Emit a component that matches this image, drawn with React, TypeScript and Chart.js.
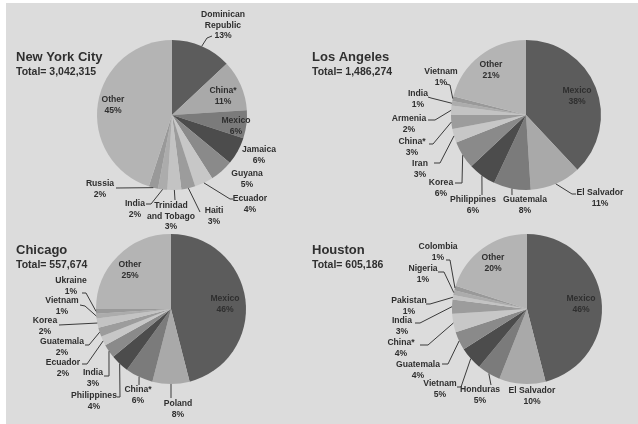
import React, { useEffect, useRef } from "react";
import { Chart, registerables } from "chart.js";

Chart.register(...registerables);

const W = 638;
const H = 424;

// ---- Data ----
const nycCategories = ["Dominican Republic", "China*", "Mexico", "Jamaica", "Guyana", "Ecuador", "Haiti", "Trinidad and Tobago", "India", "Russia", "Other"];
const nycValues = [13, 11, 6, 6, 5, 4, 3, 3, 2, 2, 45];

const laCategories = ["Mexico", "El Salvador", "Guatemala", "Philippines", "Korea", "Iran", "China*", "Armenia", "India", "Vietnam", "Other"];
const laValues = [38, 11, 8, 6, 6, 3, 3, 2, 1, 1, 21];

const chiCategories = ["Mexico", "Poland", "China*", "Philippines", "India", "Ecuador", "Guatemala", "Korea", "Vietnam", "Ukraine", "Other"];
const chiValues = [46, 8, 6, 4, 3, 2, 2, 2, 1, 1, 25];

const houCategories = ["Mexico", "El Salvador", "Honduras", "Vietnam", "Guatemala", "China*", "India", "Pakistan", "Nigeria", "Colombia", "Other"];
const houValues = [46, 10, 5, 5, 4, 4, 3, 1, 1, 1, 20];

const cityTitles = ["New York City", "Los Angeles", "Chicago", "Houston"];
const cityTotals = ["Total= 3,042,315", "Total= 1,486,274", "Total= 557,674", "Total= 605,186"];

// ---- Styles / layout ----
const palette = ["#5c5c5c", "#a9a9a9", "#7b7b7b", "#4c4c4c", "#8a8a8a", "#c7c7c7", "#9c9c9c", "#c3c3c3", "#acacac", "#999999", "#b4b4b4"];

type Lbl = { x: number; y: number; lines?: string[]; lead?: number[][] };

const nycLayout: Lbl[] = [
  { x: 223, y: 15, lines: ["Dominican", "Republic"], lead: [[207, 38], [212, 36]] },
  { x: 223, y: 91 },
  { x: 236, y: 121 },
  { x: 259, y: 150 },
  { x: 247, y: 174 },
  { x: 250, y: 199, lead: [[230, 199], [233, 199]] },
  { x: 214, y: 211, lead: [[200, 212]] },
  { x: 171, y: 206, lines: ["Trinidad", "and Tobago"], lead: [[175, 200]] },
  { x: 135, y: 204, lead: [[151, 204], [146, 204]] },
  { x: 100, y: 184, lead: [[116, 188]] },
  { x: 113, y: 100 },
];

const laLayout: Lbl[] = [
  { x: 577, y: 91 },
  { x: 600, y: 193, lead: [[572, 194], [576, 194]] },
  { x: 525, y: 200, lead: [[512, 195]] },
  { x: 473, y: 200, lead: [[482, 195]] },
  { x: 441, y: 183, lead: [[462, 183], [455, 183]] },
  { x: 420, y: 164, lead: [[440, 163], [434, 163]] },
  { x: 412, y: 142, lead: [[433, 144], [429, 144]] },
  { x: 409, y: 119, lead: [[435, 120], [428, 120]] },
  { x: 418, y: 94, lead: [[431, 98], [428, 97]] },
  { x: 441, y: 72, lead: [[450, 85], [446, 84]] },
  { x: 491, y: 65 },
];

const chiLayout: Lbl[] = [
  { x: 225, y: 299 },
  { x: 178, y: 404, lead: [[171, 398]] },
  { x: 138, y: 390, lead: [[139, 385]] },
  { x: 94, y: 396, lead: [[120, 397], [117, 397]] },
  { x: 93, y: 373, lead: [[109, 376], [104, 376]] },
  { x: 63, y: 363, lead: [[87, 364], [82, 364]] },
  { x: 62, y: 342, lead: [[89, 345], [85, 345]] },
  { x: 45, y: 321, lead: [[59, 325]] },
  { x: 62, y: 301, lead: [[85, 306], [80, 305]] },
  { x: 71, y: 281, lead: [[86, 293], [82, 293]] },
  { x: 130, y: 265 },
];

const houLayout: Lbl[] = [
  { x: 581, y: 299 },
  { x: 532, y: 391 },
  { x: 480, y: 390, lead: [[491, 385]] },
  { x: 440, y: 384, lead: [[461, 387], [457, 387]] },
  { x: 418, y: 365, lead: [[448, 364], [442, 364]] },
  { x: 401, y: 343, lead: [[428, 345], [420, 345]] },
  { x: 402, y: 321, lead: [[420, 323], [415, 323]] },
  { x: 409, y: 301, lead: [[430, 304], [426, 304]] },
  { x: 423, y: 269, lead: [[444, 272], [438, 272]] },
  { x: 438, y: 247, lead: [[450, 260], [446, 260]] },
  { x: 493, y: 258 },
];

const pies = [
  { cats: nycCategories, vals: nycValues, layout: nycLayout, cx: 172, cy: 115, tx: 16, ty: 57 },
  { cats: laCategories, vals: laValues, layout: laLayout, cx: 526, cy: 115, tx: 312, ty: 57 },
  { cats: chiCategories, vals: chiValues, layout: chiLayout, cx: 171, cy: 309, tx: 16, ty: 250 },
  { cats: houCategories, vals: houValues, layout: houLayout, cx: 527, cy: 309, tx: 312, ty: 250 },
];

const R = 75;
const FONT = "'Liberation Sans', Arial, sans-serif";

function makePlugin(idx: number) {
  const p = pies[idx];
  return {
    id: "pieLabels" + idx,
    afterDraw(chart: any) {
      const ctx = chart.ctx as CanvasRenderingContext2D;
      const meta = chart.getDatasetMeta(0);
      ctx.save();
      ctx.fillStyle = "#2f2f2f";
      ctx.textBaseline = "middle";
      ctx.textAlign = "left";
      ctx.font = `bold 13px ${FONT}`;
      ctx.fillText(cityTitles[idx], p.tx, p.ty);
      ctx.font = `bold 10.5px ${FONT}`;
      ctx.fillText(cityTotals[idx], p.tx, p.ty + 15);

      ctx.textAlign = "center";
      ctx.font = `bold 8.6px ${FONT}`;
      ctx.strokeStyle = "#3a3a3a";
      ctx.lineWidth = 1;
      meta.data.forEach((arc: any, i: number) => {
        const a = arc.getProps(["x", "y", "startAngle", "endAngle", "outerRadius"], true);
        const mid = (a.startAngle + a.endAngle) / 2;
        const lay = p.layout[i];
        if (lay.lead) {
          ctx.beginPath();
          ctx.moveTo(a.x + a.outerRadius * Math.cos(mid), a.y + a.outerRadius * Math.sin(mid));
          lay.lead.forEach(([x, y]) => ctx.lineTo(x, y));
          ctx.stroke();
        }
        const lines = [...(lay.lines ?? [p.cats[i]]), `${p.vals[i]}%`];
        lines.forEach((t, j) => ctx.fillText(t, lay.x, lay.y + j * 10.5));
      });
      ctx.restore();
    },
  };
}

export default function App() {
  const refs = [useRef<HTMLCanvasElement>(null), useRef<HTMLCanvasElement>(null), useRef<HTMLCanvasElement>(null), useRef<HTMLCanvasElement>(null)];

  useEffect(() => {
    const charts = pies.map((p, idx) => {
      const canvas = refs[idx].current!;
      return new Chart(canvas, {
        type: "pie",
        data: {
          labels: p.cats,
          datasets: [
            {
              data: p.vals,
              backgroundColor: palette,
              borderWidth: 0,
            },
          ],
        },
        options: {
          responsive: false,
          animation: false,
          devicePixelRatio: 1,
          layout: {
            padding: {
              left: p.cx - R,
              top: p.cy - R,
              right: W - p.cx - R,
              bottom: H - p.cy - R,
            },
          },
          plugins: {
            legend: { display: false },
            tooltip: { enabled: false },
            title: { display: false },
          },
        },
        plugins: [makePlugin(idx)],
      } as any);
    });
    return () => charts.forEach((c) => c.destroy());
  }, []);

  return (
    <div style={{ position: "fixed", left: 0, top: 0, width: W, height: H, background: "#ffffff", overflow: "hidden" }}>
      <div style={{ position: "absolute", left: 6, top: 3, right: 0, bottom: 0, background: "#dcdcdc" }} />
      {refs.map((r, i) => (
        <canvas key={i} ref={r} width={W} height={H} style={{ position: "absolute", left: 0, top: 0, width: W, height: H }} />
      ))}
    </div>
  );
}
